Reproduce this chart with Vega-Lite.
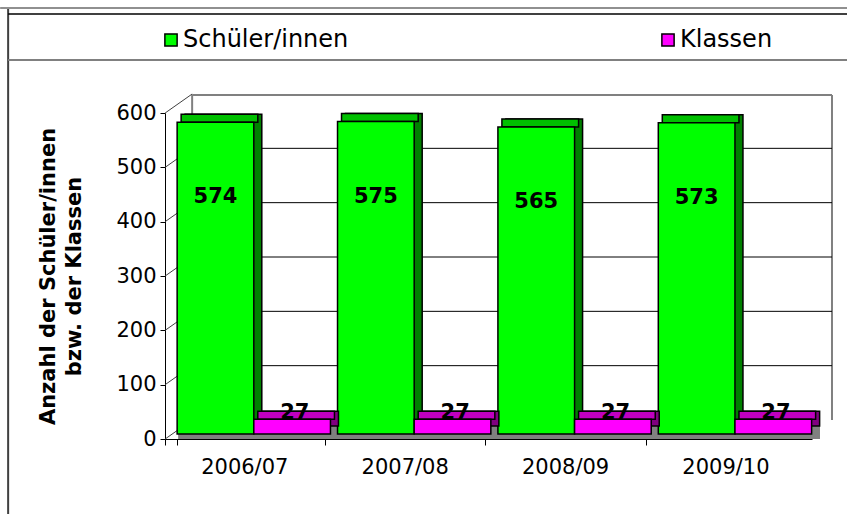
{
  "$schema": "https://vega.github.io/schema/vega-lite/v6.json",
  "width": 647,
  "height": 326,
  "autosize": {"type": "none"},
  "padding": {"left": 165, "top": 113, "right": 35, "bottom": 75},
  "background": "white",
  "config": {
    "view": {"stroke": null},
    "font": "DejaVu Sans",
    "axis": {"grid": false, "domainColor": "black", "tickColor": "black", "labelColor": "black", "titleColor": "black", "labelFont": "DejaVu Sans", "titleFont": "DejaVu Sans"},
    "axisX": {"labelAngle": 0, "bandPosition": -0.0783, "tickExtra": true, "labelOffset": -9, "tickSize": 6, "labelFontSize": 21, "labelPadding": 11},
    "axisY": {"labelFontSize": 21, "labelPadding": 4, "tickSize": 5, "titleFontSize": 21, "titleFontWeight": "bold", "titleAngle": -90, "titleX": -117, "titleY": 163, "titleAlign": "center", "titleBaseline": "middle", "titleLineHeight": 26}
  },
  "data": {"values": [
    {"jahr": "2006/07", "reihe": "Schüler/innen", "wert": 574},
    {"jahr": "2006/07", "reihe": "Klassen", "wert": 27},
    {"jahr": "2007/08", "reihe": "Schüler/innen", "wert": 575},
    {"jahr": "2007/08", "reihe": "Klassen", "wert": 27},
    {"jahr": "2008/09", "reihe": "Schüler/innen", "wert": 565},
    {"jahr": "2008/09", "reihe": "Klassen", "wert": 27},
    {"jahr": "2009/10", "reihe": "Schüler/innen", "wert": 573},
    {"jahr": "2009/10", "reihe": "Klassen", "wert": 27}
  ]},
  "layer": [
    {
      "data": {"values": [{"teil": "Boden"}]},
      "mark": {"type": "rect", "fill": "#808080", "xOffset": 1, "x2Offset": 161.7, "yOffset": 0, "y2Offset": -19},
      "encoding": {
        "x": {"datum": "2006/07", "type": "nominal", "bandPosition": 0, "scale": {"domain": ["2006/07", "2007/08", "2008/09", "2009/10"], "paddingInner": 0.044, "paddingOuter": 0.039, "align": 0.97}},
        "x2": {"datum": "2009/10", "bandPosition": 0},
        "y": {"datum": 0, "type": "quantitative", "scale": {"domain": [0, 600], "nice": false}},
        "y2": {"datum": 0}
      }
    },
    {
      "data": {"values": [{"teil": "Rückwand oben"}]},
      "mark": {"type": "rule", "color": "#808080", "strokeWidth": 2, "xOffset": 15, "x2Offset": 173.7, "yOffset": -18},
      "encoding": {
        "x": {"datum": "2006/07", "type": "nominal", "bandPosition": 0},
        "x2": {"datum": "2009/10", "bandPosition": 0},
        "y": {"datum": 600, "type": "quantitative"}
      }
    },
    {
      "data": {"values": [{"teil": "Rückwand links"}]},
      "mark": {"type": "rule", "color": "#808080", "strokeWidth": 2, "xOffset": 15, "yOffset": -19, "y2Offset": -18},
      "encoding": {
        "x": {"datum": "2006/07", "type": "nominal", "bandPosition": 0},
        "y": {"datum": 0, "type": "quantitative"},
        "y2": {"datum": 600}
      }
    },
    {
      "data": {"values": [{"teil": "Rückwand rechts"}]},
      "mark": {"type": "rule", "color": "#808080", "strokeWidth": 2, "xOffset": 173.7, "yOffset": -19, "y2Offset": -18},
      "encoding": {
        "x": {"datum": "2009/10", "type": "nominal", "bandPosition": 0},
        "y": {"datum": 0, "type": "quantitative"},
        "y2": {"datum": 600}
      }
    },
    {
      "data": {"values": [{"g": 100}, {"g": 200}, {"g": 300}, {"g": 400}, {"g": 500}]},
      "mark": {"type": "rule", "color": "black", "strokeWidth": 1, "xOffset": 15, "x2Offset": 173.7, "yOffset": -19},
      "encoding": {
        "x": {"datum": "2006/07", "type": "nominal", "bandPosition": 0},
        "x2": {"datum": "2009/10", "bandPosition": 0},
        "y": {"field": "g", "type": "quantitative"}
      }
    },
    {
      "data": {"values": [{"g": 0}, {"g": 100}, {"g": 200}, {"g": 300}, {"g": 400}, {"g": 500}, {"g": 600}]},
      "mark": {"type": "rule", "color": "#404040", "strokeWidth": 1, "xOffset": -12, "x2Offset": 15, "y2Offset": -19},
      "encoding": {
        "x": {"datum": "2006/07", "type": "nominal", "bandPosition": 0},
        "x2": {"datum": "2006/07", "bandPosition": 0},
        "y": {"field": "g", "type": "quantitative"},
        "y2": {"field": "g"}
      }
    },
    {
      "transform": [{"filter": "datum.reihe === 'Schüler/innen'"}],
      "mark": {"type": "bar", "width": {"band": 0.5}, "fill": "#008000", "stroke": "black", "strokeWidth": 1.5, "xOffset": -30.33, "x2Offset": -30.33, "yOffset": -13, "y2Offset": -13},
      "encoding": {
        "x": {"field": "jahr", "type": "nominal", "axis": {"title": null}},
        "y": {"field": "wert", "type": "quantitative", "axis": {"title": ["Anzahl der Schüler/innen", "bzw. der Klassen"], "values": [0, 100, 200, 300, 400, 500, 600]}}
      }
    },
    {
      "transform": [{"filter": "datum.reihe === 'Schüler/innen'"}],
      "mark": {"type": "bar", "width": {"band": 0.5}, "fill": "#00C000", "stroke": "black", "strokeWidth": 1.5, "xOffset": -34.33, "x2Offset": -34.33, "yOffset": -13, "y2Offset": -5},
      "encoding": {
        "x": {"field": "jahr", "type": "nominal"},
        "y": {"field": "wert", "type": "quantitative"},
        "y2": {"field": "wert"}
      }
    },
    {
      "transform": [{"filter": "datum.reihe === 'Schüler/innen'"}],
      "mark": {"type": "bar", "width": {"band": 0.5}, "stroke": "black", "strokeWidth": 1.5, "opacity": 1, "xOffset": -38.33, "x2Offset": -38.33, "yOffset": -5, "y2Offset": -5},
      "encoding": {
        "x": {"field": "jahr", "type": "nominal"},
        "y": {"field": "wert", "type": "quantitative"},
        "color": {"field": "reihe", "type": "nominal", "scale": {"domain": ["Schüler/innen", "Klassen"], "range": ["#00FF00", "#FF00FF"]}, "legend": {"title": null, "orient": "none", "legendX": -6, "legendY": -85, "direction": "horizontal", "symbolType": "square", "symbolSize": 150, "symbolStrokeColor": "black", "symbolStrokeWidth": 1.5, "labelFont": "DejaVu Sans", "labelFontSize": 24, "labelColor": "black", "labelOffset": 0, "columnPadding": 307, "padding": 0, "labelLimit": 0}}
      }
    },
    {
      "transform": [{"filter": "datum.reihe === 'Klassen'"}],
      "mark": {"type": "bar", "width": {"band": 0.5}, "fill": "#800080", "stroke": "black", "strokeWidth": 1.5, "xOffset": 46.33, "x2Offset": 46.33, "yOffset": -13, "y2Offset": -13},
      "encoding": {
        "x": {"field": "jahr", "type": "nominal"},
        "y": {"field": "wert", "type": "quantitative"}
      }
    },
    {
      "transform": [{"filter": "datum.reihe === 'Klassen'"}],
      "mark": {"type": "bar", "width": {"band": 0.5}, "fill": "#C000C0", "stroke": "black", "strokeWidth": 1.5, "xOffset": 42.33, "x2Offset": 42.33, "yOffset": -13, "y2Offset": -5},
      "encoding": {
        "x": {"field": "jahr", "type": "nominal"},
        "y": {"field": "wert", "type": "quantitative"},
        "y2": {"field": "wert"}
      }
    },
    {
      "transform": [{"filter": "datum.reihe === 'Klassen'"}],
      "mark": {"type": "bar", "width": {"band": 0.5}, "stroke": "black", "strokeWidth": 1.5, "opacity": 1, "xOffset": 38.33, "x2Offset": 38.33, "yOffset": -5, "y2Offset": -5},
      "encoding": {
        "x": {"field": "jahr", "type": "nominal"},
        "y": {"field": "wert", "type": "quantitative"},
        "color": {"field": "reihe", "type": "nominal", "scale": {"domain": ["Schüler/innen", "Klassen"], "range": ["#00FF00", "#FF00FF"]}, "legend": {"title": null, "orient": "none", "legendX": -6, "legendY": -85, "direction": "horizontal", "symbolType": "square", "symbolSize": 150, "symbolStrokeColor": "black", "symbolStrokeWidth": 1.5, "labelFont": "DejaVu Sans", "labelFontSize": 24, "labelColor": "black", "labelOffset": 0, "columnPadding": 307, "padding": 0, "labelLimit": 0}}
      }
    },
    {
      "transform": [{"filter": "datum.reihe === 'Schüler/innen'"}],
      "mark": {"type": "text", "font": "DejaVu Sans", "fontSize": 21, "fontWeight": "bold", "color": "black", "dx": -38.33, "dy": 70, "baseline": "middle", "align": "center"},
      "encoding": {
        "x": {"field": "jahr", "type": "nominal"},
        "y": {"field": "wert", "type": "quantitative"},
        "text": {"field": "wert", "type": "quantitative"}
      }
    },
    {
      "transform": [{"filter": "datum.reihe === 'Klassen'"}],
      "mark": {"type": "text", "font": "DejaVu Sans", "fontSize": 21, "fontWeight": "bold", "color": "black", "dx": 41, "dy": -5, "baseline": "alphabetic", "align": "center"},
      "encoding": {
        "x": {"field": "jahr", "type": "nominal"},
        "y": {"field": "wert", "type": "quantitative"},
        "text": {"field": "wert", "type": "quantitative"}
      }
    },
    {
      "data": {"values": [{"teil": "Rahmen links"}]},
      "mark": {"type": "rule", "color": "#404040", "strokeWidth": 2, "xOffset": -169, "yOffset": -105, "y2Offset": 75},
      "encoding": {
        "x": {"datum": "2006/07", "type": "nominal", "bandPosition": 0},
        "y": {"datum": 600, "type": "quantitative"},
        "y2": {"datum": 0}
      }
    },
    {
      "data": {"values": [{"teil": "Rahmen oben grau"}]},
      "mark": {"type": "rule", "color": "#909090", "strokeWidth": 2, "xOffset": -177, "x2Offset": 215, "yOffset": -105},
      "encoding": {
        "x": {"datum": "2006/07", "type": "nominal", "bandPosition": 0},
        "x2": {"datum": "2009/10", "bandPosition": 0},
        "y": {"datum": 600, "type": "quantitative"}
      }
    },
    {
      "data": {"values": [{"teil": "Rahmen oben"}]},
      "mark": {"type": "rule", "color": "black", "strokeWidth": 1.5, "xOffset": -169, "x2Offset": 215, "yOffset": -99},
      "encoding": {
        "x": {"datum": "2006/07", "type": "nominal", "bandPosition": 0},
        "x2": {"datum": "2009/10", "bandPosition": 0},
        "y": {"datum": 600, "type": "quantitative"}
      }
    },
    {
      "data": {"values": [{"teil": "Legendenlinie"}]},
      "mark": {"type": "rule", "color": "#808080", "strokeWidth": 2, "xOffset": -169, "x2Offset": 215, "yOffset": -53},
      "encoding": {
        "x": {"datum": "2006/07", "type": "nominal", "bandPosition": 0},
        "x2": {"datum": "2009/10", "bandPosition": 0},
        "y": {"datum": 600, "type": "quantitative"}
      }
    }
  ]
}
